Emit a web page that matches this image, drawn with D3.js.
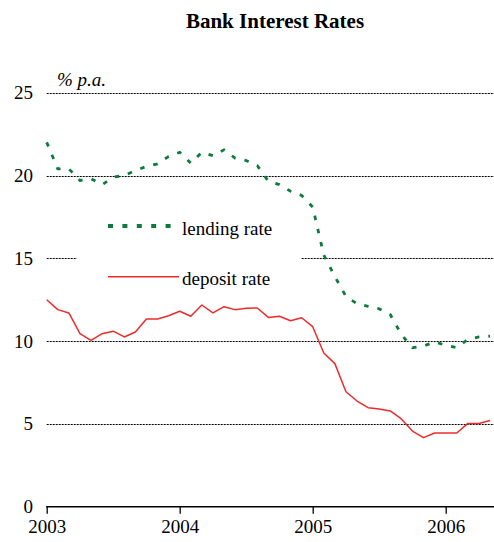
<!DOCTYPE html>
<html>
<head>
<meta charset="utf-8">
<script src="https://cdn.jsdelivr.net/npm/d3@7"></script>
<style>
  html, body { margin: 0; padding: 0; background: #fff; }
  svg { display: block; }
  text { font-family: "Liberation Serif", "Times New Roman", serif; fill: #000; }
</style>
</head>
<body>
<svg id="chart" width="494" height="542"></svg>
<script>
// Monthly observations, January 2003 to May 2006
const months = [
  "2003-01","2003-02","2003-03","2003-04","2003-05","2003-06","2003-07","2003-08","2003-09","2003-10","2003-11","2003-12",
  "2004-01","2004-02","2004-03","2004-04","2004-05","2004-06","2004-07","2004-08","2004-09","2004-10","2004-11","2004-12",
  "2005-01","2005-02","2005-03","2005-04","2005-05","2005-06","2005-07","2005-08","2005-09","2005-10","2005-11","2005-12",
  "2006-01","2006-02","2006-03","2006-04","2006-05"
];

// Lending rate, % p.a.
const lendingRate = [
  22.0, 20.4, 20.4, 19.7, 19.8, 19.45, 19.9, 20.0, 20.3, 20.55, 20.7, 21.15,
  21.4, 20.75, 21.4, 21.2, 21.55, 21.05, 20.9, 20.6, 19.65, 19.45, 19.05, 18.8,
  18.1, 15.2, 13.9, 12.7, 12.25, 12.1, 11.95, 11.6, 10.4, 9.6, 9.7, 9.95,
  9.75, 9.6, 10.1, 10.25, 10.3
];

// Deposit rate, % p.a.
const depositRate = [
  12.5, 11.9, 11.7, 10.45, 10.05, 10.45, 10.6, 10.25, 10.55, 11.33, 11.33, 11.53,
  11.8, 11.5, 12.18, 11.7, 12.08, 11.9, 11.98, 12.0, 11.43, 11.5, 11.23, 11.41,
  10.87, 9.28, 8.64, 6.94, 6.38, 5.98, 5.9, 5.78, 5.3, 4.57, 4.17, 4.45,
  4.45, 4.45, 5.03, 5.03, 5.21
];

const yTicks = [0, 5, 10, 15, 20, 25];
const xTicks = [2003, 2004, 2005, 2006];

const title = "Bank Interest Rates";
const unitLabel = "% p.a.";
const seriesNames = ["lending rate", "deposit rate"];
const colors = { lending: "#0e7a3c", deposit: "#ee2b2b" };

// Convert "YYYY-MM" to a fractional year
const toYear = s => { const [y, m] = s.split("-").map(Number); return y + (m - 1) / 12; };

const svg = d3.select("#chart");
const plot = { left: 46.7, right: 494, top: 92.7, bottom: 506.7 };

const x = d3.scaleLinear().domain([2003, 2006]).range([plot.left, 445.7]);
const y = d3.scaleLinear().domain([0, 25]).range([plot.bottom, plot.top]);

// Title
svg.append("text")
  .attr("x", 275).attr("y", 28)
  .attr("text-anchor", "middle")
  .style("font-size", "21px").style("font-weight", "bold")
  .text(title);

// Unit label
svg.append("text")
  .attr("x", 57).attr("y", 86)
  .style("font-size", "19px").style("font-style", "italic")
  .text(unitLabel);

// Dotted horizontal gridlines
svg.append("g")
  .selectAll("line")
  .data(yTicks.filter(d => d > 0))
  .join("line")
  .attr("x1", plot.left).attr("x2", plot.right)
  .attr("y1", d => Math.round(y(d)) + 0.5).attr("y2", d => Math.round(y(d)) + 0.5)
  .attr("stroke", "#000").attr("stroke-width", 1.1)
  .attr("stroke-dasharray", "2,1");

// Y tick labels (no axis line)
svg.append("g")
  .selectAll("text")
  .data(yTicks)
  .join("text")
  .attr("x", 33).attr("y", d => y(d))
  .attr("dy", "0.34em")
  .attr("text-anchor", "end")
  .style("font-size", "19px")
  .text(d => d);

// X axis along zero
const xAxis = d3.axisBottom(x)
  .tickValues(xTicks)
  .tickFormat(d3.format("d"))
  .tickSize(7)
  .tickPadding(6);

const gx = svg.append("g")
  .attr("transform", `translate(0,${y(0)})`)
  .call(xAxis);
gx.select(".domain").remove();
gx.selectAll(".tick line").attr("stroke", "#000").attr("stroke-width", 1.3);
gx.selectAll(".tick text")
  .style("font-size", "19px")
  .style("font-family", "'Liberation Serif', 'Times New Roman', serif")
  .attr("fill", "#000");
gx.append("line")
  .attr("x1", plot.left - 0.6).attr("x2", plot.right)
  .attr("y1", 0).attr("y2", 0)
  .attr("stroke", "#000").attr("stroke-width", 1.5);

// Legend panel with white background
const legend = svg.append("g");
legend.append("rect")
  .attr("x", 77).attr("y", 200).attr("width", 224).attr("height", 100)
  .attr("fill", "#fff");
legend.append("line")
  .attr("x1", 108).attr("x2", 180).attr("y1", 226).attr("y2", 226)
  .attr("stroke", colors.lending).attr("stroke-width", 4)
  .attr("stroke-dasharray", "5,9.4");
legend.append("text")
  .attr("x", 182).attr("y", 235)
  .style("font-size", "19px")
  .text(seriesNames[0]);
legend.append("line")
  .attr("x1", 108).attr("x2", 179).attr("y1", 276.7).attr("y2", 276.7)
  .attr("stroke", colors.deposit).attr("stroke-width", 1.5);
legend.append("text")
  .attr("x", 182).attr("y", 285)
  .style("font-size", "19px")
  .text(seriesNames[1]);

// Series lines
const line = d3.line()
  .x(d => x(d.t))
  .y(d => y(d.v));

const lendingData = months.map((m, i) => ({ t: toYear(m), v: lendingRate[i] }));
const depositData = months.map((m, i) => ({ t: toYear(m), v: depositRate[i] }));

svg.append("path")
  .datum(depositData)
  .attr("d", line)
  .attr("fill", "none")
  .attr("stroke", colors.deposit)
  .attr("stroke-width", 1.5)
  .attr("stroke-linejoin", "round");

svg.append("path")
  .datum(lendingData)
  .attr("d", line)
  .attr("fill", "none")
  .attr("stroke", colors.lending)
  .attr("stroke-width", 2.8)
  .attr("stroke-dasharray", "4.5,9");
</script>
</body>
</html>
